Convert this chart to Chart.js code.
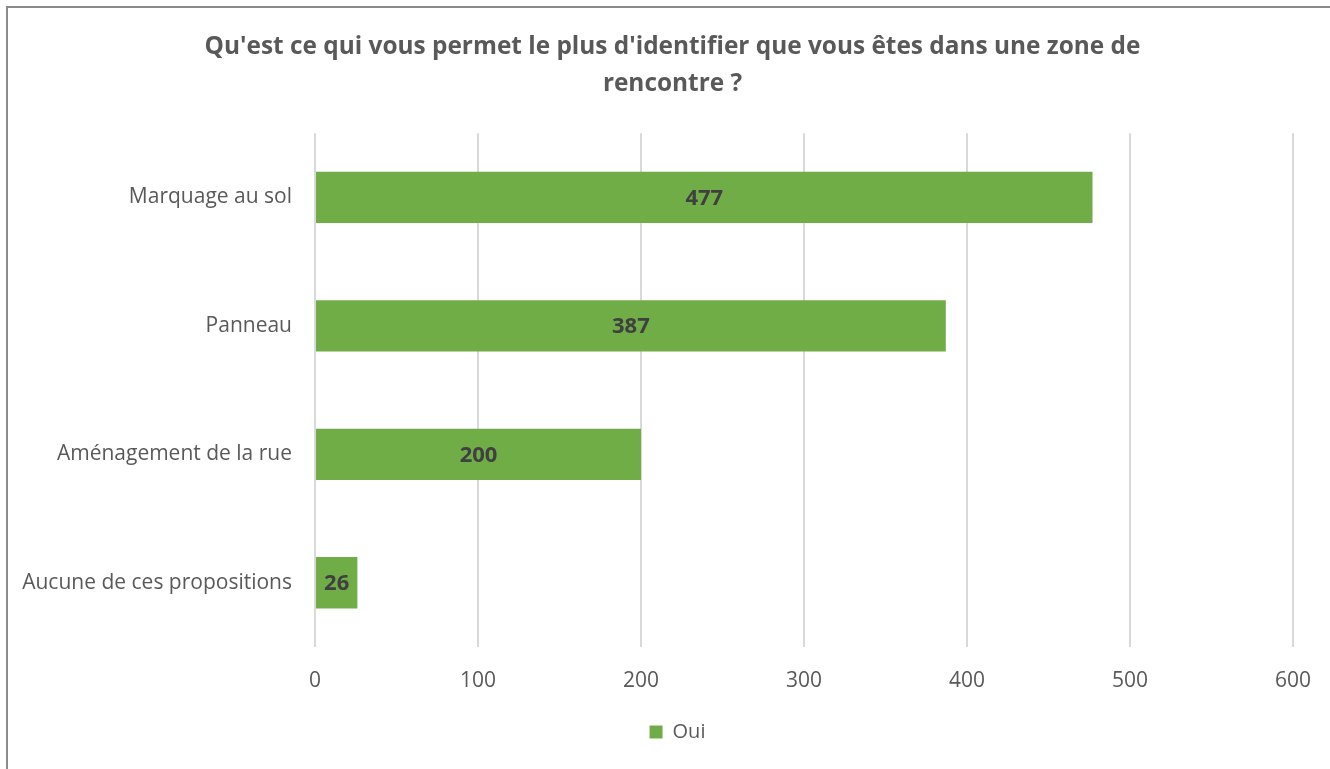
<!DOCTYPE html>
<html>
<head>
<meta charset="utf-8">
<script src="https://cdn.jsdelivr.net/npm/chart.js@4"></script>
<style>
    html, body { margin: 0; padding: 0; background: #fff; overflow: hidden; }
    #frame { position: absolute; left: 6px; top: 6px; width: 1400px; height: 900px; border: 2px solid #8a8a8a; }
    #wrap { position: absolute; left: 0; top: 0; width: 1330px; height: 769px; }
</style>
</head>
<body>
<div id="frame"></div>
<div id="wrap"><canvas id="surveyChart"></canvas></div>
<script>
// Data
const categories = ['Marquage au sol', 'Panneau', 'Aménagement de la rue', 'Aucune de ces propositions'];
const ouiValues = [477, 387, 200, 26];
const seriesLabel = 'Oui';
const chartTitle = ["Qu'est ce qui vous permet le plus d'identifier que vous êtes dans une zone de", 'rencontre ?'];

const FONT = "'Open Sans', sans-serif";
const TEXT_GREY = '#595959';

// Small plugin: value labels in the middle of each bar
const barValueLabels = {
    id: 'barValueLabels',
    afterDatasetsDraw(chart) {
        const ctx = chart.ctx;
        ctx.save();
        ctx.font = 'bold 22px ' + FONT;
        ctx.fillStyle = '#404040';
        ctx.textAlign = 'center';
        ctx.textBaseline = 'middle';
        chart.getDatasetMeta(0).data.forEach(function (bar, i) {
            const value = chart.data.datasets[0].data[i];
            const mid = (bar.x + bar.base) / 2;
            ctx.fillText(String(value), mid, bar.y + 1);
        });
        ctx.restore();
    }
};

// The original frame is wider than the visible area, so title and legend sit a bit right of centre
const shiftTitleLegend = {
    id: 'shiftTitleLegend',
    afterLayout(chart) {
        if (chart.titleBlock) { chart.titleBlock.left += 26; chart.titleBlock.right += 26; }
        if (chart.legend) { chart.legend.left += 31; chart.legend.right += 31; }
    }
};

const ctx = document.getElementById('surveyChart').getContext('2d');

new Chart(ctx, {
    type: 'bar',
    data: {
        labels: categories,
        datasets: [{
            label: seriesLabel,
            data: ouiValues,
            backgroundColor: '#70AD47',
            borderWidth: 0,
            barPercentage: 0.4,
            categoryPercentage: 1.0
        }]
    },
    options: {
        indexAxis: 'y',
        responsive: true,
        maintainAspectRatio: false,
        animation: false,
        layout: {
            padding: { left: 0, right: 37, top: 29, bottom: 17 }
        },
        plugins: {
            title: {
                display: true,
                text: chartTitle,
                color: TEXT_GREY,
                font: { family: FONT, size: 24.4, weight: 'bold', lineHeight: 1.5 },
                padding: { top: 0, bottom: 31 }
            },
            legend: {
                position: 'bottom',
                labels: {
                    color: TEXT_GREY,
                    font: { family: FONT, size: 20 },
                    boxWidth: 13,
                    boxHeight: 13,
                    padding: 8
                }
            },
            tooltip: { enabled: false }
        },
        scales: {
            x: {
                min: 0,
                max: 600,
                ticks: {
                    stepSize: 100,
                    color: TEXT_GREY,
                    font: { family: FONT, size: 21 },
                    padding: 21
                },
                grid: { color: '#d9d9d9', lineWidth: 2, drawTicks: false },
                border: { display: false },
                afterFit: function (scale) {
                    scale.height = 67;
                    scale.paddingLeft = 0;
                    scale.paddingRight = 0;
                }
            },
            y: {
                ticks: {
                    color: TEXT_GREY,
                    font: { family: FONT, size: 21 },
                    padding: 23
                },
                grid: { display: false, drawTicks: false },
                border: { display: false },
                afterFit: function (scale) { scale.width = 315; }
            }
        }
    },
    plugins: [barValueLabels, shiftTitleLegend]
});
</script>
</body>
</html>
